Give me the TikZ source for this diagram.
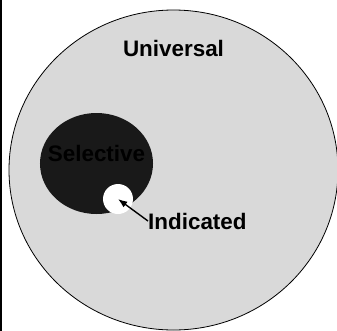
\documentclass[tikz,border=0pt]{standalone}
\usepackage{fontspec}
\setmainfont{Liberation Sans}
\usetikzlibrary{arrows.meta,shapes.geometric}

\begin{document}
\begin{tikzpicture}[
    x=1bp, y=-1bp,
    >=Latex,
    region/.style={ellipse, inner sep=0pt},
    setlabel/.style={font=\fontsize{22.5}{27}\selectfont\bfseries, inner sep=0pt}
]
\useasboundingbox (0,0) rectangle (337,331);
\fill[black] (0,0) rectangle (2.4,331);

\node[region, draw=black, line width=0.8bp, fill=black!15, minimum width=329bp, minimum height=320bp] (universal) at (173.5,170) {};
\node[region, fill=black!90, minimum width=113bp, minimum height=101bp] (selective) at (96.5,163.5) {};
\node[circle, fill=white, inner sep=0pt, minimum size=30bp] (indicated) at (118,199) {};

\node[setlabel] (universallabel) at (173.5,48) {Universal};
\node[setlabel, text=black] (selectivelabel) at (96.5,153) {Selective};
\node[setlabel, anchor=west] (indicatedlabel) at (148,221) {Indicated};

\draw[->, line width=1.4bp] (indicatedlabel.west) -- (indicated.center);
\end{tikzpicture}
\end{document}
